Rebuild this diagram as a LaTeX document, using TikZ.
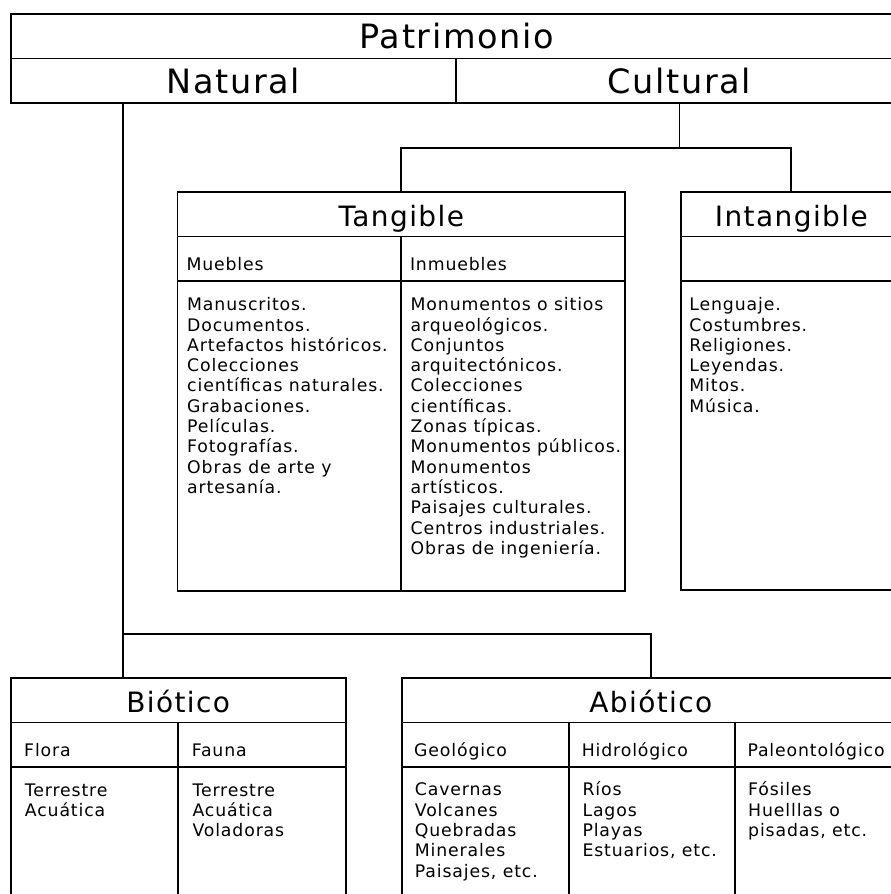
\documentclass[tikz,border=0pt]{standalone}
\usepackage{fontspec}
\setmainfont{DejaVu Sans}[LetterSpace=5]
\tikzset{
  cell/.style={draw, line width=1.8pt, rectangle, anchor=north west, inner sep=0pt, outer sep=0pt},
  big/.style={cell, font=\fontsize{33.5}{36}\selectfont, minimum height=44.5pt, text height=25pt, text depth=0pt},
  ttl/.style={cell, font=\fontsize{28}{30}\selectfont, minimum height=44.5pt, text height=25pt, text depth=0pt},
  sub/.style={cell, font=\fontsize{17.3}{20.3}\selectfont, minimum height=44.5pt, text height=23.4pt, text depth=0pt, align=left},
  lst/.style={anchor=north west, inner sep=0pt, align=left, font=\fontsize{17.3}{20.3}\selectfont},
  link/.style={line width=1.8pt}
}
\begin{document}
\begin{tikzpicture}[x=1pt,y=-1pt]
  \useasboundingbox (0,0) rectangle (891,894);
  \clip (0,0) rectangle (891,894);
  \fill[white] (0,0) rectangle (891,894);
  \node[big, minimum width=892.3pt] (patri) at (10.7,14) {Patrimonio};
  \node[big, minimum width=445.3pt] (nat) at (patri.south west) {Natural};
  \node[big, minimum width=447pt] (cult) at (nat.north east) {Cultural};
  \node[ttl, minimum width=447.5pt] (tang) at (177.5,192) {Tangible};
  \node[sub, inner xsep=9pt, text width=205.5pt] (mue) at (tang.south west) {Muebles};
  \node[sub, inner xsep=9pt, text width=206pt] (inm) at (mue.north east) {Inmuebles};
  \node[cell, minimum width=223.5pt, minimum height=310pt] (muel) at (mue.south west) {};
  \node[cell, minimum width=224pt, minimum height=310pt] (inml) at (inm.south west) {};
  \node[lst] (muet) at ([shift={(9.5,15.3)}]muel.north west) {\strut Manuscritos.\\Documentos.\\Artefactos históricos.\\Colecciones\\científicas naturales.\\Grabaciones.\\Películas.\\Fotografías.\\Obras de arte y\\artesanía.};
  \node[lst] (inmt) at ([shift={(9.5,15.3)}]inml.north west) {\strut Monumentos o sitios\\arqueológicos.\\Conjuntos\\arquitectónicos.\\Colecciones\\científicas.\\Zonas típicas.\\Monumentos públicos.\\Monumentos\\artísticos.\\Paisajes culturales.\\Centros industriales.\\Obras de ingeniería.};
  \node[ttl, minimum width=221.3pt] (intang) at (680.7,192) {Intangible};
  \node[sub, minimum width=221.3pt] (intsub) at (intang.south west) {};
  \node[cell, minimum width=221.3pt, minimum height=309pt] (intl) at (intsub.south west) {};
  \node[lst] (intt) at ([shift={(8.5,15.3)}]intl.north west) {\strut Lenguaje.\\Costumbres.\\Religiones.\\Leyendas.\\Mitos.\\Música.};
  \node[ttl, minimum width=335pt] (bio) at (10.7,678) {Biótico};
  \node[sub, inner xsep=13.5pt, text width=140.6pt] (flora) at (bio.south west) {Flora};
  \node[sub, inner xsep=13.5pt, text width=140.4pt] (fauna) at (flora.north east) {Fauna};
  \node[cell, minimum width=167.6pt, minimum height=160pt] (floral) at (flora.south west) {};
  \node[cell, minimum width=167.4pt, minimum height=160pt] (faunal) at (fauna.south west) {};
  \node[lst] (florat) at ([shift={(14,14.8)}]floral.north west) {\strut Terrestre\\Acuática};
  \node[lst] (faunat) at ([shift={(14,14.8)}]faunal.north west) {\strut Terrestre\\Acuática\\Voladoras};
  \node[ttl, minimum width=498.3pt] (abio) at (401.7,678) {Abiótico};
  \node[sub, inner xsep=12.5pt, text width=142.6pt] (geo) at (abio.south west) {Geológico};
  \node[sub, inner xsep=12.5pt, text width=140.7pt] (hidro) at (geo.north east) {Hidrológico};
  \node[sub, inner xsep=12.5pt, text width=140pt] (paleo) at (hidro.north east) {Paleontológico};
  \node[cell, minimum width=167.6pt, minimum height=160pt] (geol) at (geo.south west) {};
  \node[cell, minimum width=165.7pt, minimum height=160pt] (hidrol) at (hidro.south west) {};
  \node[cell, minimum width=165pt, minimum height=160pt] (paleol) at (paleo.south west) {};
  \node[lst] (geot) at ([shift={(13,14.5)}]geol.north west) {\strut Cavernas\\Volcanes\\Quebradas\\Minerales\\Paisajes, etc.};
  \node[lst] (hidrot) at ([shift={(13,14.5)}]hidrol.north west) {\strut Ríos\\Lagos\\Playas\\Estuarios, etc.};
  \node[lst] (paleot) at ([shift={(13,14.5)}]paleol.north west) {\strut Fósiles\\Huelllas o\\pisadas, etc.};
  \coordinate (natroot) at ([xshift=112pt]nat.south west);
  \coordinate (natbr) at (natroot |- 0,634);
  \draw[link] (natroot) -- (natroot |- bio.north);
  \draw[link] (natbr) -| (abio.north);
  \draw[link] (cult.south) -- ++(0,44.7) coordinate (cultbr);
  \draw[link] (tang.north) |- (cultbr) -| (intang.north);
\end{tikzpicture}
\end{document}
